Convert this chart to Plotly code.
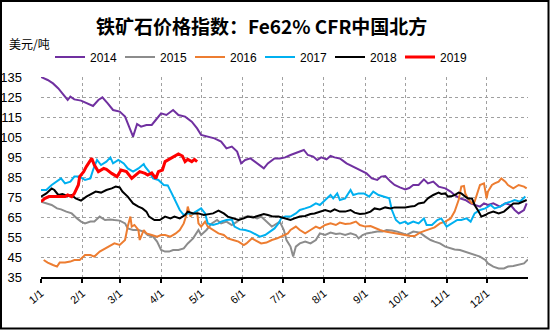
import plotly.graph_objects as go

# ---------------- data ----------------
month_days = [0, 31, 59, 90, 120, 151, 181, 212, 243, 273, 304, 334]
month_labels = ["1/1", "2/1", "3/1", "4/1", "5/1", "6/1", "7/1", "8/1", "9/1", "10/1", "11/1", "12/1"]
y_ticks = [35, 45, 55, 65, 75, 85, 95, 105, 115, 125, 135]

days_2014 = [0,5,9,13,16,20,22,25,30,35,39,43,46,50,54,59,63,66,69,72,75,79,83,86,90,94,99,103,108,113,
             117,120,125,130,135,139,143,147,150,153,157,162,167,170,175,179,183,187,192,197,200,204,207,210,
             214,217,220,224,229,234,239,244,248,252,255,258,262,265,269,273,276,279,283,287,290,294,298,303,
             307,310,314,318,322,325,329,332,335,339,344,348,352,355,358,362,364]
price_2014 = [135,133.5,131.8,129.3,126.8,123.5,125.2,123.8,123.2,121.8,120.5,123.5,124.8,121.8,118.5,117.7,
              115.2,110.2,105.2,111.5,110.2,111,111,113.5,116.8,116,118.5,116,115.2,112.7,109.3,106,105.2,
              104.3,102.7,99.3,100.2,97.7,91.8,93.5,94.3,91.8,89.3,91.8,94.3,94.3,94.8,96,97.2,98.5,96,95.2,
              93.5,94.8,93.8,95.5,94.8,94.3,91.8,90.2,88.5,86.8,84.3,83.5,85.2,85.5,82.7,81,79.8,78.8,79.5,
              81,81,83.8,81.8,82.7,80.2,79.3,77.7,76,74.3,73.5,71.8,71,70.2,71.8,71,71.8,70.2,71.8,71,68.5,
              66.8,68.5,71.8]

days_2015 = [0,4,8,12,15,19,23,27,30,33,37,40,44,48,52,55,59,63,65,69,73,77,80,84,87,90,93,96,99,103,
             107,110,114,118,120,124,128,132,135,139,143,147,150,154,158,162,165,169,173,175,179,182,184,
             187,189,191,194,198,202,206,209,213,217,221,224,228,232,236,238,241,244,248,252,256,259,263,
             267,271,274,279,284,288,292,295,299,303,307,310,314,318,322,325,329,333,335,339,343,347,350,
             354,358,362,365]
price_2015 = [72.7,71.8,71,69.3,68.8,67.7,66.8,64.3,62.7,61.8,62.7,62.7,65.2,63.5,63.8,63.5,63.2,61.8,59.3,
              58.5,58.5,57.7,56,55.2,52.7,48.5,47.7,47.7,48.5,48.5,49.3,51.8,54.3,58.5,56,58.5,61.8,63.5,
              61.8,62.7,61,62.7,64.3,65.2,65.2,64.3,65.2,62.7,60.2,61,62.7,58.5,53.5,50.2,45.2,50.2,51.8,
              52.7,51.8,53.5,56.8,56,57.2,56.5,56.8,56,56.8,56,54.3,56,56.8,57.2,57.7,57.7,58.5,58.2,57.7,
              56.8,56,57.7,57.2,55.2,53.5,52.7,51.8,50.2,49.3,48.8,48.5,47.7,46.8,46,45.2,43.5,41.8,40.2,
              39.3,39.3,40.2,40.5,41,41.8,43.8]

days_2016 = [2,5,9,12,14,18,22,25,29,33,37,40,44,48,52,55,59,63,65,67,68,70,73,74,77,79,83,87,90,93,
             97,101,104,107,109,110,112,114,117,118,120,123,125,129,133,137,140,144,148,152,154,158,162,
             165,169,173,177,180,185,187,191,194,198,202,206,209,213,217,221,224,228,232,236,239,243,247,
             251,254,258,262,266,269,274,277,280,284,288,292,295,299,303,307,310,313,315,317,318,320,323,
             325,327,329,332,334,335,338,340,343,345,348,350,354,358,362,364]
price_2016 = [43.5,42.2,41,40.2,42.2,42.2,42.7,43.5,43.5,46,46,45.2,47.7,49.3,51,51.8,51,53.5,60.2,65.2,
              60.2,61,58.5,53.5,58.5,56.8,56,55.2,56,56,55.2,56.8,58.5,61.8,66,70.2,65.2,66.8,67.7,61.8,
              60.2,62.7,60.2,58.5,56.8,56,54.3,53.5,52.7,51,51.8,54.3,52.7,51.8,52.2,53.5,54.3,55.2,56.8,
              58.5,60.2,58.5,56.8,58.5,60.2,59.3,61,61.8,61,62.2,61.5,61.8,62.7,61,60.2,60.5,59.3,58.5,
              57.7,57.2,56.8,56.5,56,55.5,55.5,57.2,58.2,59.3,59.8,61.8,62.7,64.3,67.7,73.5,80.2,80.5,
              76.8,74.3,71.8,72.7,76.8,81,81.8,74.3,77.7,81,81.8,82.7,84.3,82.7,81,79.3,81,80.2,79.3]

days_2017 = [0,4,8,12,15,18,22,25,29,33,37,39,42,45,49,52,54,58,62,65,69,73,77,78,81,84,88,92,95,98,
             100,102,104,107,110,114,118,120,123,125,129,133,135,139,143,145,149,153,157,160,164,168,172,
             175,178,180,183,187,191,194,198,202,206,209,213,217,219,222,224,228,232,234,238,242,246,249,
             253,257,261,263,266,269,273,275,279,283,287,289,293,297,300,304,308,312,315,319,322,325,329,
             333,337,340,344,348,352,355,359,363]
price_2017 = [78.5,78.5,81,82.7,84.3,81.8,82.7,85.2,85.2,83.5,84.3,88.5,93.5,91,92.7,94.8,91.8,93.5,91.8,
              89.3,87.7,89.3,91.5,90.2,87.7,84.3,83.5,81,80.8,76.8,74.3,71.8,68.5,66,66.8,66.8,68.5,69.3,
              66.8,61.8,61,61.8,62.7,63.5,63.8,60.2,58.8,58.5,57.7,56.8,55.2,56,57.7,59.3,61.8,64.3,65.2,
              65.2,66.8,68.5,69.3,70.2,71.8,71,73.5,76,74.3,76.8,73.5,74.3,78.5,76,76.8,76.8,75.2,77.7,76,
              75.2,74.3,68.5,63.5,61.8,62.7,61.5,62.7,61.8,64.3,61,61,63.5,64.3,60.2,61.8,63.5,63.5,64.3,
              62.7,66.8,68.5,69.3,71,69.3,70.2,71.8,72.7,73.5,72.7,75.2]

days_2018 = [0,4,8,10,13,16,20,23,26,30,34,38,41,45,49,53,56,59,61,65,69,73,76,79,81,85,89,93,97,100,
             104,108,110,114,118,122,125,129,133,137,140,144,148,152,155,159,163,167,170,174,178,182,187,
             190,194,198,202,205,209,213,217,220,224,228,232,235,239,243,247,250,254,258,262,265,269,273,
             277,280,283,287,290,294,298,300,303,305,308,310,313,315,318,320,323,325,328,330,333,335,339,
             343,347,350,354,358,362,364]
price_2018 = [75.2,76.8,79.3,78.5,76,76.5,75.5,76,74.3,73.2,75.2,76.5,77.7,77.2,78.5,79.3,80.2,79.8,77.7,
              75.2,71.8,70.2,69.3,67.7,65.2,63.5,63.5,65.2,64.3,65.2,64.3,66,67.7,66.8,66.8,66,66.5,66.8,
              68.2,66.8,65.2,64.3,63.5,64.3,65.2,64.8,65.5,66.5,66,65.2,65.2,64.3,63.5,64.3,65.2,65.5,66.5,
              66.8,67.7,68.5,67.7,68.8,67.7,67.7,68.5,67.2,66.5,66.8,67.7,69.3,68.8,69.8,69.3,69.8,69.8,
              69.8,70.2,70.5,71.8,72.2,74.3,76,77.2,76.5,76.8,75.2,75.5,76,77.2,76.8,75.2,74.3,74.3,71,
              67.7,65.2,66,66.8,67.7,66.8,67.7,69.3,71.8,71.8,72.7,73.5]

days_2019 = [0,3,6,10,14,18,20,23,25,28,29,32,34,37,38,40,43,47,49,53,57,60,64,68,72,74,78,80,83,86,88,
             91,93,95,98,100,103,106,108,110,113,115,117]
price_2019 = [72.7,74.3,75.2,75.2,75.5,75.2,76,75.2,76.8,81,85.2,87.7,90.2,93.8,94.3,91,87.7,89.3,88.8,
              86.8,85.2,88.5,87.7,84.3,86.8,87.7,86.8,86,87,84.3,87.7,88.5,92.7,93.5,94.3,95.2,96.5,95.5,
              92.7,93.8,92.7,93.8,92.7]

series = [
    ("2014", days_2014, price_2014, "#7030A0", 2),
    ("2015", days_2015, price_2015, "#8C8C8C", 2),
    ("2016", days_2016, price_2016, "#ED7D31", 2),
    ("2017", days_2017, price_2017, "#00B0F0", 2),
    ("2018", days_2018, price_2018, "#000000", 2),
    ("2019", days_2019, price_2019, "#FF0000", 3),
]

# ---------------- figure ----------------
fig = go.Figure()
for name, d, v, color, width in series:
    fig.add_trace(go.Scatter(x=d, y=v, mode="lines", name=name,
                             line=dict(color=color, width=width)))

L, R, T, B = 41, 22, 77, 53
fig.update_layout(
    width=550, height=330,
    margin=dict(l=L, r=R, t=T, b=B, pad=0, autoexpand=False),
    paper_bgcolor="white", plot_bgcolor="white",
    font=dict(family="Liberation Sans, Arial", color="black", size=12),
    legend=dict(orientation="h", x=(50 - L) / 487, xanchor="left",
                y=(277 - 57) / 200, yanchor="middle",
                font=dict(size=12), entrywidth=25, entrywidthmode="pixels",
                bgcolor="rgba(0,0,0,0)", itemwidth=30),
    showlegend=True,
)
fig.update_xaxes(range=[0, 365], tickmode="array", tickvals=month_days, ticktext=month_labels,
                 tickangle=-40, tickfont=dict(size=11), automargin=False,
                 showgrid=True, gridcolor="#A0A0A0", griddash="3px,3px", gridwidth=1,
                 showline=True, linecolor="black", linewidth=1.5,
                 ticks="outside", ticklen=4, tickcolor="black", tickwidth=1.5,
                 zeroline=False, fixedrange=True)
fig.update_yaxes(range=[35, 135], tickmode="array", tickvals=y_ticks,
                 tickfont=dict(size=13), automargin=False,
                 showgrid=True, gridcolor="#A0A0A0", griddash="3px,3px", gridwidth=1,
                 showline=False, zeroline=False, ticks="", ticklabelstandoff=18,
                 fixedrange=True)

# title as annotation for precise placement
fig.add_annotation(text="<b>铁矿石价格指数：Fe62% CFR中国北方</b>", xref="paper", yref="paper",
                   x=(261.5 - L) / 487, y=(277 - 25.5) / 200, xanchor="center", yanchor="middle",
                   showarrow=False, font=dict(family="Noto Sans CJK SC", size=19, color="black"))

fig.add_annotation(text="美元/吨", xref="paper", yref="paper",
                   x=(7 - L) / 487, y=(277 - 43) / 200, xanchor="left", yanchor="middle",
                   showarrow=False, font=dict(family="Noto Sans CJK SC", size=12, color="black"))

# outer frame
fig.add_shape(type="rect", xref="paper", yref="paper",
              x0=(1 - L) / 487, x1=(548.5 - L) / 487,
              y0=(277 - 328.5) / 200, y1=(277 - 1) / 200,
              line=dict(color="black", width=2), fillcolor="rgba(0,0,0,0)", layer="above")

fig.write_html("out.html")
